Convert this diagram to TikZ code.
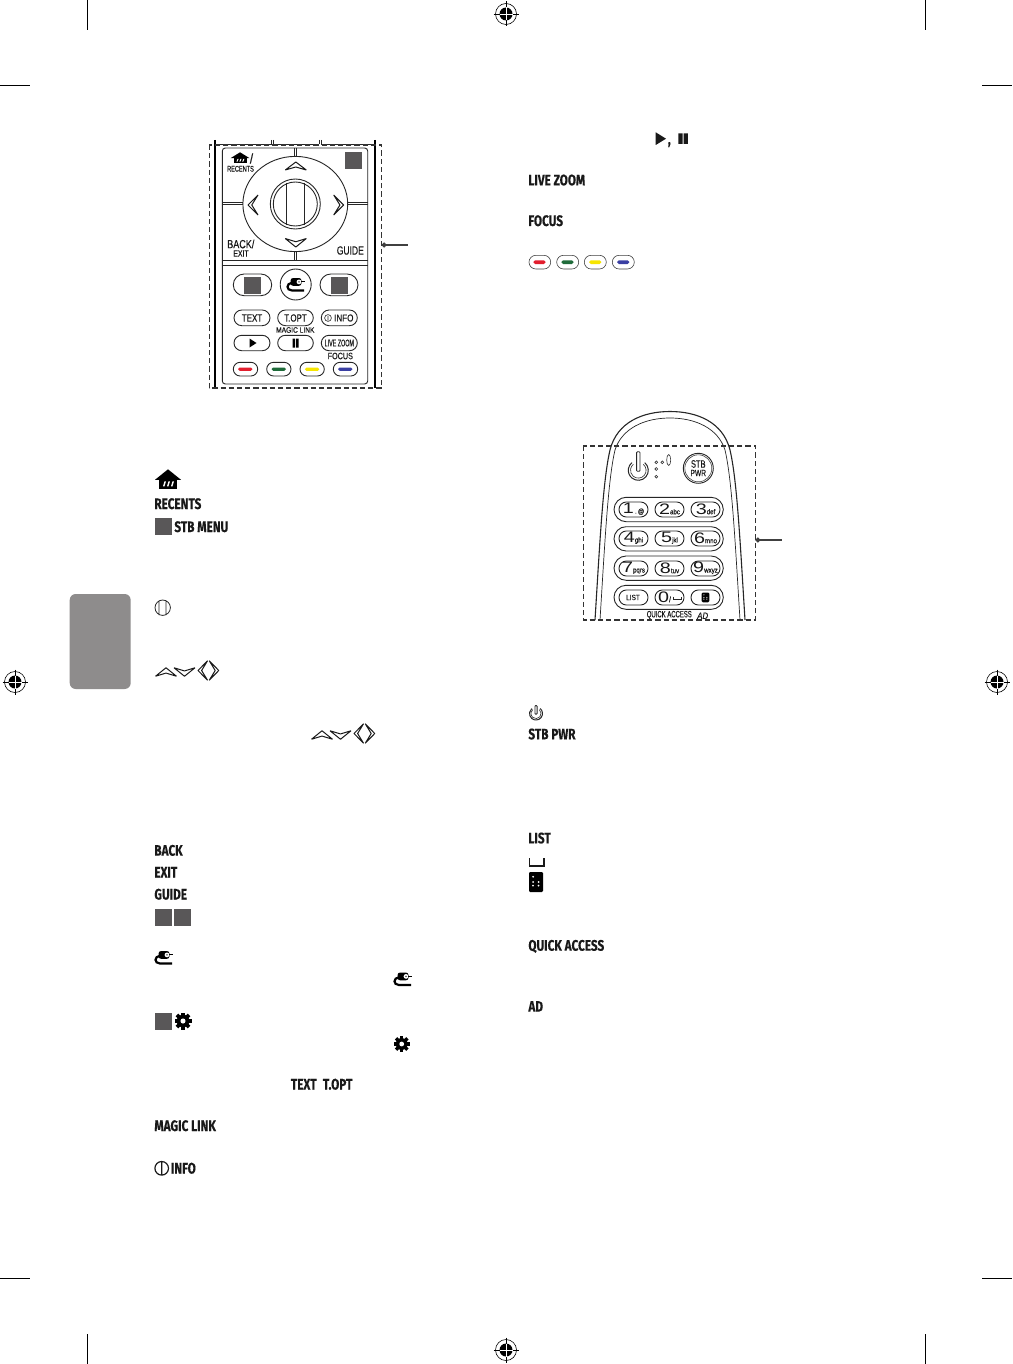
\documentclass[tikz,border=0pt]{standalone}
\usepackage{fontspec}
\usetikzlibrary{arrows.meta}
\newfontfamily\lab{Fira Sans}[FakeStretch=0.775,FakeBold=0.25]
\newfontfamily\rem{Liberation Sans}[FakeStretch=0.85,FakeBold=0.35]
\newfontfamily\digitf{Liberation Sans}[FakeStretch=1.3]
\definecolor{swgray}{HTML}{595758}
\definecolor{tabgray}{HTML}{8E8C8C}
\definecolor{bred}{HTML}{E21E2E}
\definecolor{bgreen}{HTML}{1F6B3A}
\definecolor{byellow}{HTML}{F6E500}
\definecolor{bblue}{HTML}{3A3FA3}
\tikzset{
  lbl/.style={anchor=base west,inner sep=0,font=\lab\bfseries\fontsize{7.6}{9}\selectfont,text=black!90},
  rlab/.style={inner sep=0,font=\rem\fontsize{#1}{#1}\selectfont,text=black!90},
  rlab/.default=5,
  outl/.style={draw=black!85,line width=.45pt},
  thin outl/.style={draw=black!75,line width=.3pt},
  heavy/.style={draw=black,line width=.85pt},
  dashbox/.style={draw=black!80,line width=.55pt,dash pattern=on 2.6pt off 1.5pt},
  conn/.style={draw=black!75,line width=.65pt,{Circle[length=2.4pt]}-},
  crop/.style={draw=black,line width=.5pt},
}
% pill: x1 y1 x2 y2 + style
\newcommand{\pillbox}[5][outl]{\pgfmathsetmacro\pr{abs(#5-#3)/4}\draw[#1,rounded corners=\pr pt] (#2,#3) rectangle (#4,#5);}
\newcommand{\colbar}[5]{\pgfmathsetmacro\pr{abs(#5-#3)/4}\fill[#1,rounded corners=\pr pt] (#2,#3) rectangle (#4,#5);}
\newcommand{\swatch}[4]{\fill[swgray] (#1,#2) rectangle (#3,#4);}
\newcommand{\regmark}[2]{%
  \begin{scope}[shift={(#1,#2)}]
    \draw[black,line width=.3pt] (0,0) circle[radius=10.5];
    \fill[black] (0,0) circle[radius=6.5];
    \draw[black,line width=.45pt] (-12.5,0) -- (-6,0) (6,0) -- (12.5,0) (0,-12.5) -- (0,-6) (0,6) -- (0,12.5);
    \draw[white,line width=.3pt] (-6.5,0) -- (6.5,0) (0,-6.5) -- (0,6.5);
  \end{scope}}
% home icon, local box 26x20
\newcommand{\homeicon}[4]{%
  \begin{scope}[shift={(#1,#2)},xscale=#3,yscale=#4]
    \fill[black] (13,0) -- (26,10.5) -- (0,10.5) -- cycle;
    \fill[black] (4,10) rectangle (22,20);
    \fill[white] (8,17) -- (9.5,12) -- (11,12) -- (9.5,17) -- cycle
                 (12,17) -- (13.5,12) -- (15,12) -- (13.5,17) -- cycle
                 (16,17) -- (17.5,12) -- (19,12) -- (17.5,17) -- cycle;
  \end{scope}}
% mouse icon, local box 18x14
\newcommand{\mouseicon}[3]{%
  \begin{scope}[shift={(#1,#2)},scale=#3]
    \fill[black,rounded corners=1.3pt] (3.5,0) rectangle (14.5,7.8);
    \fill[white] (12,3.9) circle[radius=2.4];
    \fill[black] (12,3.9) circle[radius=.7];
    \draw[black,line width=.5pt] (14,3.9) -- (18,3.9);
    \draw[black,line width=1.1pt] (5,4.8) .. controls (-1,5.2) and (-1,12.5) .. (5,12.5) -- (17,12.5);
  \end{scope}}
\newcommand{\gearicon}[3]{%
  \begin{scope}[shift={(#1,#2)}]
    \foreach \ang in {0,45,90,135}{
      \fill[black,rotate=\ang] (-#3,-.21*#3) rectangle (#3,.21*#3);}
    \fill[black] (0,0) circle[radius=.74*#3];
    \fill[white] (0,0) circle[radius=.3*#3];
  \end{scope}}
% chevrons: centre, width, height
\tikzset{chev/.style={draw=black!90,line width=.5pt,line join=bevel,fill=white}}
\newcommand{\chevU}[4]{\draw[chev] ({#1-#3/2},{#2+#4/2}) -- (#1,{#2-#4/2}) -- ({#1+#3/2},{#2+#4/2}) -- (#1,{#2+#4/8}) -- cycle;}
\newcommand{\chevD}[4]{\draw[chev] ({#1-#3/2},{#2-#4/2}) -- (#1,{#2+#4/2}) -- ({#1+#3/2},{#2-#4/2}) -- (#1,{#2-#4/8}) -- cycle;}
\newcommand{\chevL}[4]{\draw[chev] ({#1+#3/2},{#2-#4/2}) -- ({#1-#3/2},#2) -- ({#1+#3/2},{#2+#4/2}) -- ({#1-#3/8},#2) -- cycle;}
\newcommand{\chevR}[4]{\draw[chev] ({#1-#3/2},{#2-#4/2}) -- ({#1+#3/2},#2) -- ({#1-#3/2},{#2+#4/2}) -- ({#1+#3/8},#2) -- cycle;}
\newcommand{\padicons}[2]{%
  \begin{scope}[shift={(#1,#2)}]
    \chevU{11}{13}{21}{8.5}
    \chevD{29.5}{13}{21}{8.5}
    \chevL{47.8}{11.5}{9.5}{19.5}
    \chevR{59}{11.5}{9.5}{19.5}
  \end{scope}}
\newcommand{\poweric}[4]{%
  \begin{scope}[shift={(#1,#2)}]
    \draw[black!85,line width=.5pt] (-50:#3) arc[start angle=-50,end angle=230,radius=#3];
    \draw[black!85,line width=.3pt] (-50:{#3*.78}) arc[start angle=-50,end angle=230,radius={#3*.78}];
    \draw[black!85,line width=.4pt,rounded corners=.4pt] ({-#3*.17},{#3*.1}) rectangle ({#3*.17},{-#4});
  \end{scope}}
\newcommand{\remoteicon}[5]{%
  \fill[black,rounded corners=.6pt] (#1,#2) rectangle ({#1+#3},{#2+#4});
  \fill[white] ({#1+.29*#3},{#2+.24*#4}) circle[radius=#5]
     ({#1+.29*#3},{#2+.5*#4}) circle[radius=#5] ({#1+.68*#3},{#2+.5*#4}) circle[radius=#5]
     ({#1+.29*#3},{#2+.68*#4}) circle[radius=#5] ({#1+.68*#3},{#2+.68*#4}) circle[radius=#5];}
% number key: name, cx, cy, big, small
\newcommand{\numkey}[5]{%
  \draw[outl,rounded corners=3.7pt] ({#2-14},{#3-7}) rectangle ({#2+15},{#3+8});
  \node[inner sep=0,text=black!90] (#1) at ({#2+.5},#3) {\digitf\fontsize{7.6}{8}\selectfont #4\rem\fontsize{3.6}{4}\selectfont #5};}
\begin{document}
\begin{tikzpicture}[x=.5pt,y=-.5pt]
\useasboundingbox (0,0) rectangle (1012,1364);
\fill[white] (0,0) rectangle (1012,1364);

%% crop and registration marks
\draw[crop] (87,0) -- (87,30) (925,0) -- (925,30) (0,86) -- (30,86) (982,86) -- (1012,86)
            (87,1334) -- (87,1364) (925,1334) -- (925,1364) (0,1278) -- (30,1278) (982,1278) -- (1012,1278);
\regmark{506}{14}\regmark{15}{682}\regmark{997}{682}\regmark{506}{1350}

%% side tab
\fill[tabgray,rounded corners=3pt] (69.7,594) rectangle (130.7,689);

%% ---- first remote
\draw[heavy] (215,140) -- (215,388) (375,140) -- (375,388);
\draw[outl] (215,144) -- (271.7,144) (273,144) -- (319,144) (321,144) -- (375,144)
            (271.7,140) -- (271.7,144) (273,140) -- (273,144) (319,140) -- (319,144) (321,140) -- (321,144);
\draw[outl,rounded corners=1.5pt] (222.3,148) rectangle (367.7,384);
\draw[outl] (222.3,260.3) -- (367.7,260.3) (222.3,265.3) -- (367.7,265.3);
\draw[outl] (294.3,148) -- (294.3,156.5) (296.5,148) -- (296.5,156.5)
            (294.3,251.5) -- (294.3,260.3) (296.5,251.5) -- (296.5,260.3)
            (222.3,202.7) -- (243,202.7) (222.3,204.8) -- (243,204.8)
            (347.7,202.7) -- (367.7,202.7) (347.7,204.8) -- (367.7,204.8);
\draw[outl] (295.3,204) ellipse[x radius=52.4,y radius=47.6];
\draw[outl] (295.3,204) circle[radius=25] (295.3,204) circle[radius=22];
\draw[outl] (286.3,183) -- (286.3,225) (304.3,183) -- (304.3,225);
\chevU{295.8}{166}{21}{8}
\chevD{295.8}{242.8}{21}{8.5}
\chevL{253}{205}{10}{20}
\chevR{338.7}{205}{10}{20}
\swatch{345}{152}{362}{169}
\homeicon{230.7}{152.3}{.72}{.55}
\node[rlab=7] (slashA) at (251.5,158.5) {/};
\node[rlab=4.1,xscale=.8] (recentsA) at (240.5,168.8) {RECENTS};
\node[rlab=5.9,xscale=.9] (backA) at (240.8,244) {BACK/};
\node[rlab=4.6,xscale=.88] (exitA) at (241,253.5) {EXIT};
\node[rlab=5.9,xscale=.85] (guideA) at (350.3,250.5) {GUIDE};

\pillbox{233.3}{274}{271.7}{295.7}
\swatch{244}{276.7}{261}{294}
\draw[outl] (295.7,284.5) circle[radius=15.5];
\mouseicon{287}{278}{1}
\pillbox{320}{274}{358}{295.7}
\swatch{331}{276.7}{348}{294}

\pillbox{234}{310}{270}{325.7}
\pillbox{277.7}{310}{313.3}{325.7}
\pillbox{321.3}{310}{357.3}{325.7}
\node[rlab=5.2,xscale=.9] (textA) at (252,318) {TEXT};
\node[rlab=5.2,xscale=.9] (toptA) at (295.5,318) {T.OPT};
\node[rlab=5,xscale=.95] (infoA) at (343.8,318) {INFO};
\draw[black!85,line width=.3pt] (328,318) circle[radius=3.4] (328,316) -- (328,320);
\node[rlab=3.9] (magicA) at (295.3,330) {MAGIC LINK};
\pillbox{234}{335.3}{270}{350.7}
\pillbox{277.7}{335.3}{313.3}{350.7}
\pillbox{321.3}{335.3}{357.3}{350.7}
\fill[black] (249.5,338.5) -- (256.5,343) -- (249.5,347.5) -- cycle;
\fill[black] (292.5,338.5) rectangle (295,347.5) (296.2,338.5) rectangle (298.7,347.5);
\node[rlab=4.8,xscale=.66] (zoomA) at (339.3,343) {LIVE ZOOM};
\node[rlab=4.6,xscale=.92] (focusA) at (340.3,356) {FOCUS};
\pillbox{233.3}{362.3}{257.7}{376}
\pillbox{266.7}{362.3}{291}{376}
\pillbox{300}{362.3}{324.3}{376}
\pillbox{333.3}{362.3}{357.7}{376}
\colbar{bred}{238}{367.6}{252.5}{370.8}
\colbar{bgreen}{271.5}{367.6}{286}{370.8}
\colbar{byellow}{304.8}{367.6}{319.3}{370.8}
\colbar{bblue}{338}{367.6}{352.5}{370.8}
\draw[dashbox] (209.3,145) rectangle (381.7,388);
\coordinate (c1a) at (381.7,245);
\coordinate (c1b) at (408,245);
\draw[conn] (c1a) -- (c1b);

%% ---- second remote
\draw[outl,line width=.55pt] (595,620) .. controls (600,540) and (603,480) .. (610,450)
   .. controls (617,422) and (643,411.5) .. (670,411.5) .. controls (697,411.5) and (723,422) .. (730,450)
   .. controls (737,480) and (740,540) .. (745,620);
\draw[outl,line width=.35pt] (600,620) .. controls (605,540) and (608,480) .. (615,450)
   .. controls (622,428) and (645,418) .. (670,418) .. controls (695,418) and (718,428) .. (725,450)
   .. controls (732,480) and (735,540) .. (740,620);
\poweric{638.3}{470.3}{10}{18.5}
\draw[black!80,line width=.3pt] (656.3,462.3) circle[radius=1.4] (662.3,462.3) circle[radius=1.4]
   (656.3,469) circle[radius=1.4] (656.3,476.7) circle[radius=1.4]
   (668.7,460) ellipse[x radius=2,y radius=5.5];
\draw[outl] (698.3,468.3) circle[radius=15] ;
\draw[thin outl] (698.3,468.3) circle[radius=13.5];
\node[rlab=5.4,xscale=.82] (stbB) at (698.3,464) {STB};
\node[rlab=4.6,xscale=.85] (pwrB) at (698.3,473) {PWR};
\pillbox{614}{497.3}{723.3}{521.7}
\pillbox{614}{526.7}{723.3}{551}
\pillbox{614}{556}{723.3}{580.3}
\pillbox{614}{585.3}{723.3}{609.3}
\numkey{k1}{633}{509}{1}{\,.\,@}
\numkey{k2}{669}{509}{2}{abc}
\numkey{k3}{705}{509}{3}{def}
\numkey{k4}{633}{538}{4}{ghi}
\numkey{k5}{669}{538}{5}{jkl}
\numkey{k6}{705}{538}{6}{mno}
\numkey{k7}{633}{568}{7}{pqrs}
\numkey{k8}{669}{568}{8}{tuv}
\numkey{k9}{705}{568}{9}{wxyz}
\numkey{kl}{633}{597}{}{}
\node[rlab=3.8] (listB) at (633,597.5) {LIST};
\numkey{k0}{669}{597}{}{}
\node[inner sep=0,text=black!90] (zeroB) at (664.5,597) {\digitf\fontsize{7.6}{8}\selectfont 0\rem\fontsize{4}{4}\selectfont /};
\draw[black!85,line width=.4pt] (673.5,596.5) -- (673.5,599.3) -- (681,599.3) -- (681,596.5);
\numkey{kr}{705}{597}{}{}
\remoteicon{701.7}{592.5}{7.6}{9.8}{.6}
\node[rlab=4.6,xscale=.76] (quickB) at (669.3,615) {QUICK ACCESS};
\node[rlab=4.6] (adB) at (702.7,615.7) {\itshape AD};
\draw[dashbox] (583.3,446) rectangle (755.3,620);
\coordinate (c2a) at (755.5,540);
\coordinate (c2b) at (781.5,540);
\draw[conn] (c2a) -- (c2b);

%% ---- left column
\homeicon{155}{469.3}{1}{1}
\node[lbl] (recents) at (154,509) {RECENTS};
\swatch{155}{517.7}{172}{535}
\node[lbl] (stbmenu) at (174,532) {STB MENU};
\draw[black!85,line width=.4pt] (162.7,607.7) circle[radius=7.7] (159,600.5) -- (159,615) (166,600.5) -- (166,615);
\padicons{155}{659}
\padicons{311}{722}
\node[lbl] (back) at (154,855.7) {BACK};
\node[lbl] (exit) at (154,877.5) {EXIT};
\node[lbl] (guide) at (154,899.5) {GUIDE};
\swatch{155}{909}{172}{926}
\swatch{174}{909}{191}{926}
\mouseicon{155}{951}{1}
\mouseicon{394}{972.5}{1}
\swatch{155}{1013}{172}{1030}
\gearicon{183}{1021}{8.5}
\gearicon{401.7}{1044}{8}
\node[lbl] (text) at (290.5,1089.5) {TEXT};
\node[lbl] (topt) at (322.5,1089.5) {T.OPT};
\node[lbl] (magic) at (154,1131) {MAGIC LINK};
\draw[black!90,line width=.6pt] (161.7,1168.3) circle[radius=6.8] (161.7,1162) -- (161.7,1175);
\node[lbl] (info) at (170.5,1173.5) {INFO};

%% ---- right column
\fill[black!90] (655.7,132.3) -- (666,138.7) -- (655.7,145) -- cycle;
\node[lbl] (comma) at (667.5,144.5) {,};
\fill[black!90] (678.3,133.3) rectangle (682.7,144) (683.7,133.3) rectangle (687.9,144);
\node[lbl] (livezoom) at (528,185.3) {LIVE ZOOM};
\node[lbl] (focus) at (528,226) {FOCUS};
\pillbox[thin outl]{529}{255.3}{550.7}{269}
\pillbox[thin outl]{556.7}{255.3}{578.7}{269}
\pillbox[thin outl]{584.3}{255.3}{606.3}{269}
\pillbox[thin outl]{612.3}{255.3}{634.3}{269}
\colbar{bred}{533.3}{260.3}{545.7}{264}
\colbar{bgreen}{561.3}{260.3}{573.7}{264}
\colbar{byellow}{589}{260.3}{601.4}{264}
\colbar{bblue}{617}{260.3}{629.4}{264}
\poweric{536}{713.5}{6.5}{8}
\node[lbl] (stbpwr) at (528,739.3) {STB PWR};
\node[lbl] (list) at (528,843.3) {LIST};
\draw[black!90,line width=.6pt] (529.5,858) -- (529.5,866) -- (544,866) -- (544,858);
\remoteicon{529}{872}{14}{20}{1}
\node[lbl] (quick) at (528,950.7) {QUICK ACCESS};
\node[lbl] (ad) at (528,1011.7) {AD};
\end{tikzpicture}
\end{document}
